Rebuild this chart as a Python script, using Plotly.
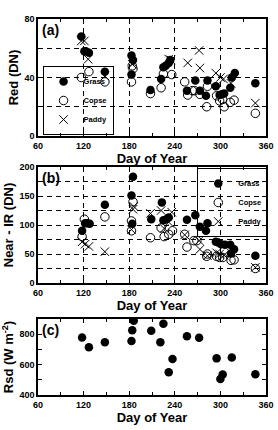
import plotly.graph_objects as go

# ---- Data ----
red_grass_day = [117, 121, 123, 127, 148, 183, 185, 183, 208, 222, 225, 228, 232, 234,
                 256, 267, 273, 281, 283, 294, 299, 302, 305, 313, 315, 319, 346]
red_grass = [68, 58, 58, 57, 44, 55, 52, 42, 31.5, 39, 47, 48, 50, 52,
             31, 38, 31, 27.5, 38, 34, 28, 28.5, 29, 33, 40, 43, 36]

red_copse_day = [117, 127, 148, 183, 184, 185, 208, 222, 225, 236, 253, 257, 263, 266,
                 273, 282, 283, 295, 299, 303, 305, 313, 318, 346]
red_copse = [40, 44, 37, 37, 48, 46, 29, 33, 42.5, 42, 37, 28, 31, 31,
             28.5, 20, 34, 27.5, 24, 25, 20, 23, 24.5, 15.5]

red_paddy_day = [117, 121, 126, 148, 184, 232, 235, 257, 272, 273, 294, 300, 304, 314, 346]
red_paddy = [65, 65, 52.5, 41, 49, 52.6, 52, 50, 58.5, 46.5, 43, 40, 39, 36, 22.5]

nir_grass_day = [118, 122, 125, 128, 148, 183, 185, 184, 209, 223, 225, 229, 232,
                 256, 267, 273, 281, 283, 294, 297, 301, 306, 313, 318, 314, 346]
nir_grass = [90, 103, 103, 102, 135, 151, 183, 102, 110, 139, 108, 110, 113,
             109, 117, 97, 90, 103, 71, 70, 67, 66, 66, 58, 51, 47]

nir_copse_day = [118, 121, 148, 183, 185, 183, 208, 222, 226, 232, 237, 253, 256, 265,
                 269, 283, 282, 295, 299, 303, 314, 318, 346]
nir_copse = [80, 110, 114, 107, 140, 90, 78, 95, 80, 84, 90, 84, 62, 73,
             73, 50, 46, 46, 44, 44, 39, 40, 25]

nir_paddy_day = [118, 122, 127, 148, 183, 185, 186, 208, 222, 226, 232, 236, 253,
                 272, 273, 283, 295, 299, 305, 314, 346]
nir_paddy = [71, 67, 63, 54, 92, 127, 132, 120, 125, 94, 105, 122, 83,
             73, 58, 47, 52, 50, 48, 52, 27]

rsd_day = [118, 127, 148, 183, 184, 186, 209, 221, 225, 232, 237, 256, 272, 295,
           300, 303, 315, 346]
rsd = [778, 714, 747, 755, 826, 888, 823, 747, 869, 549, 637, 786, 777, 641,
       506, 535, 646, 537]

FONT = "Liberation Sans, Arial, sans-serif"

fig = go.Figure()

def add_series(days, vals, name, symbol, xa, ya, legend, showlegend=True):
    if symbol == "circle":
        marker = dict(symbol="circle", size=8.5, color="black", line=dict(width=0))
    elif symbol == "circle-open":
        marker = dict(symbol="circle-open", size=8.5, color="black", line=dict(width=1, color="black"))
    else:
        marker = dict(symbol="x-thin-open", size=8.5, color="black", line=dict(width=1, color="black"))
    fig.add_trace(go.Scatter(x=days, y=vals, mode="markers", name=name, marker=marker,
                             xaxis=xa, yaxis=ya, legend=legend, showlegend=showlegend))

add_series(red_grass_day, red_grass, "Grass", "circle", "x", "y", "legend")
add_series(red_copse_day, red_copse, "Copse", "circle-open", "x", "y", "legend")
add_series(red_paddy_day, red_paddy, "Paddy", "x", "x", "y", "legend")

add_series(nir_grass_day, nir_grass, "Grass", "circle", "x2", "y2", "legend2")
add_series(nir_copse_day, nir_copse, "Copse", "circle-open", "x2", "y2", "legend2")
add_series(nir_paddy_day, nir_paddy, "Paddy", "x", "x2", "y2", "legend2")

add_series(rsd_day, rsd, "Rsd", "circle", "x3", "y3", "legend", showlegend=False)

tickfont = dict(family=FONT, size=9, color="black", weight="bold")
titlefont = dict(family=FONT, size=13, color="black", weight="bold")
DASH = "5px,4px"

def xaxis(domain_anchor, grid):
    return dict(range=[60, 360], tick0=60, dtick=60, ticks="inside", ticklen=4,
                tickwidth=1, tickcolor="black", showline=True, linewidth=1.5,
                linecolor="black", mirror="ticks", showgrid=grid, griddash=DASH,
                gridcolor="black", gridwidth=1, zeroline=False, tickfont=tickfont,
                anchor=domain_anchor, domain=[0, 1], automargin=False,
                minor=dict(dtick=30, tick0=60, ticks="inside", ticklen=3,
                           tickcolor="black", showgrid=False),
                title=dict(text="Day of Year", font=titlefont, standoff=1))

def yaxis(rng, dtick, minor_dtick, domain, title, grid, anchor):
    return dict(range=rng, tick0=rng[0], dtick=dtick, ticks="inside", ticklen=4,
                tickwidth=1, tickcolor="black", showline=True, linewidth=1.5,
                linecolor="black", mirror="ticks", showgrid=grid, griddash=DASH,
                gridcolor="black", gridwidth=1, zeroline=False, tickfont=tickfont,
                domain=domain, anchor=anchor, automargin=False,
                minor=dict(dtick=minor_dtick, tick0=rng[0], ticks="inside", ticklen=4,
                           tickcolor="black", showgrid=grid, griddash=DASH,
                           gridcolor="black", gridwidth=1),
                title=dict(text=title, font=titlefont, standoff=3))

H = 376.0
def dom(top_px, bot_px):
    return [(395 - bot_px) / H, (395 - top_px) / H]

legend_font = dict(family=FONT, size=7.5, color="black", weight="bold")

fig.update_layout(
    width=278, height=430,
    margin=dict(l=38, r=10, t=19, b=35),
    paper_bgcolor="white", plot_bgcolor="white",
    xaxis=xaxis("y", True),
    yaxis=yaxis([0, 80], 40, 20, dom(19, 136), "Red (DN)", True, "x"),
    xaxis2=xaxis("y2", True),
    yaxis2=yaxis([0, 200], 50, 25, dom(167, 283), "Near - IR (DN)", True, "x2"),
    xaxis3=xaxis("y3", False),
    yaxis3=yaxis([400, 900], 200, 100, dom(319, 395), "Rsd (W m<sup>-2</sup>)", False, "x3"),
    legend=dict(x=0.02, y=dom(19, 136)[0] + 1.0 / H, xanchor="left", yanchor="bottom",
                bgcolor="rgba(255,255,255,0)", bordercolor="black", borderwidth=1,
                font=legend_font, itemsizing="trace",
                tracegroupgap=0, itemwidth=30),
    legend2=dict(x=1.01, y=dom(167, 283)[1] - 1.0 / H, xanchor="right", yanchor="top",
                 bgcolor="rgba(255,255,255,0)", bordercolor="black", borderwidth=1,
                 font=legend_font, itemsizing="trace",
                 tracegroupgap=0, itemwidth=30),
    showlegend=True,
)

for lab, xr in [("(a)", "x"), ("(b)", "x2"), ("(c)", "x3")]:
    fig.add_annotation(text=lab, xref=f"{xr} domain", yref=f"{'y' + xr[1:]} domain",
                       x=0.01, y=0.99, xanchor="left", yanchor="top", showarrow=False,
                       font=dict(family=FONT, size=14, color="black", weight="bold"))

fig.write_html("out.html")
